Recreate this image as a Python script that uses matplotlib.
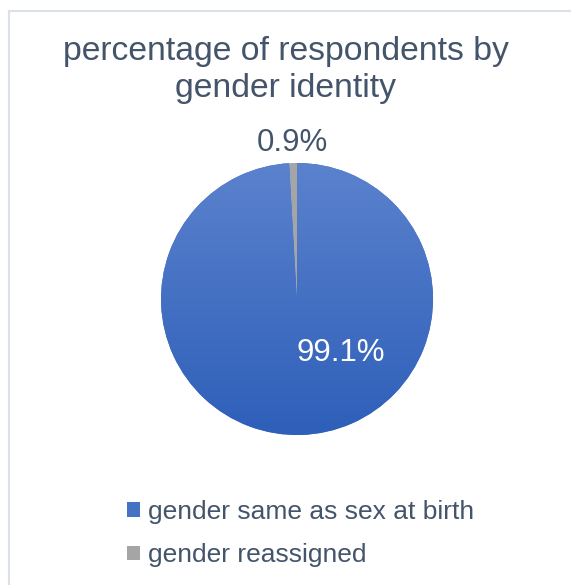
import numpy as np
import matplotlib
matplotlib.use('Agg')
import matplotlib.pyplot as plt
from matplotlib.colors import LinearSegmentedColormap
from matplotlib.lines import Line2D

plt.rcParams['font.family'] = ['Liberation Sans', 'DejaVu Sans']

# data
labels = ['gender same as sex at birth', 'gender reassigned']
values = [99.1, 0.9]
colors = ['#4572c4', '#a5a5a5']
title = 'percentage of respondents by\ngender identity'

text_col = '#44546a'

fig = plt.figure(figsize=(5.71, 5.85), dpi=100)

# chart border (top + left edge)
fig.add_artist(Line2D([9/571, 1], [1 - 11/585, 1 - 11/585], color='#dbe1e8', lw=1.5))
fig.add_artist(Line2D([9/571, 9/571], [1 - 11/585, 0], color='#dbe1e8', lw=1.5))

ax = fig.add_axes([0.282, 0.2564, 0.4764, 0.4650])
wedges, _ = ax.pie(values, colors=colors, startangle=90, counterclock=False,
                   radius=1, wedgeprops=dict(linewidth=0))
ax.set_xlim(-1, 1)
ax.set_ylim(-1, 1)
ax.set_aspect('equal')
ax.axis('off')

# vertical gradient on the big slice
grad = np.linspace(0, 1, 256).reshape(-1, 1)
cmap = LinearSegmentedColormap.from_list('bl', ['#5b82cd', '#2e5fb9'])
im = ax.imshow(grad, extent=[-1, 1, -1, 1], cmap=cmap, aspect='auto',
               origin='upper', zorder=2)
im.set_clip_path(wedges[0])

# labels
w = wedges[1]
ang = np.deg2rad((w.theta1 + w.theta2) / 2)
ax.text(1.15 * np.cos(ang), 1.15 * np.sin(ang), f'{values[1]:.1f}%',
        ha='center', va='center', fontsize=22.4, color=text_col, zorder=5)
ax.text(0.32, -0.40, f'{values[0]:.1f}%', ha='center', va='center',
        fontsize=22.4, color='white', zorder=5)

fig.text(0.5, 1 - 70/585, title, ha='center', va='center', fontsize=24.3,
         color=text_col, linespacing=1.22)

leg = fig.legend(wedges, labels, loc='center left',
                 bbox_to_anchor=(127/571, 1 - 533.5/585), frameon=False,
                 fontsize=19, handlelength=0.48, handleheight=0.48,
                 handletextpad=0.32, labelspacing=0.74, borderpad=0,
                 borderaxespad=0)
for t in leg.get_texts():
    t.set_color(text_col)

fig.savefig('out.png', dpi=100)
